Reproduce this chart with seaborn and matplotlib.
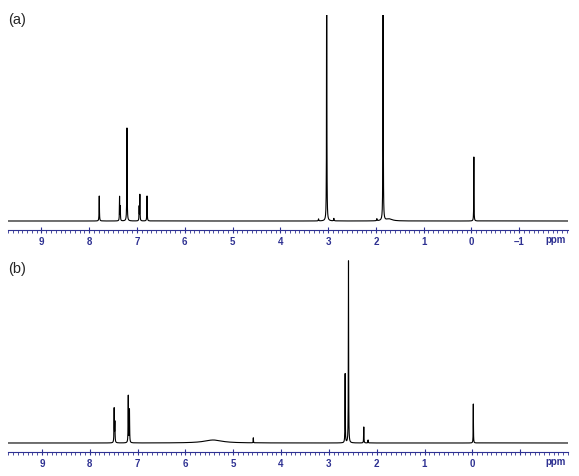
import numpy as np
import pandas as pd
import matplotlib
matplotlib.use("Agg")
import matplotlib.pyplot as plt
import seaborn as sns

# peak lists (shift in ppm, height above baseline, width in ppm)
shift_a = [7.79, 7.365, 7.35, 7.21, 6.955, 6.94, 6.79, 3.20, 3.03, 2.88, 1.98, 1.85, 1.72, -0.05]
height_a = [25, 24, 14, 93, 14, 26, 25, 2, 400, 2.5, 2, 400, 2, 64]
width_a = [0.008, 0.007, 0.007, 0.008, 0.007, 0.007, 0.008, 0.01, 0.006, 0.01, 0.01, 0.006, 0.15, 0.006]

shift_b = [7.49, 7.475, 7.195, 7.17, 5.42, 4.58, 2.66, 2.59, 2.27, 2.18, -0.02]
height_b = [34, 20, 47, 33, 3, 5, 69, 182, 16, 3, 39]
width_b = [0.008, 0.008, 0.008, 0.008, 0.45, 0.006, 0.007, 0.007, 0.007, 0.008, 0.006]

ticks_a = [9, 8, 7, 6, 5, 4, 3, 2, 1, 0, -1]
labels_a = ["9", "8", "7", "6", "5", "4", "3", "2", "1", "0", "\u20131"]
ticks_b = [9, 8, 7, 6, 5, 4, 3, 2, 1, 0, -1]
labels_b = ["9", "8", "7", "6", "5", "4", "3", "2", "1", "0", ""]

BLUE = "#2e3192"


def spectrum(lo, hi, shifts, heights, widths):
    x = np.arange(lo, hi, 0.0005)
    y = np.zeros_like(x)
    for s, h, w in zip(shifts, heights, widths):
        hw = w / 2
        y += h * hw**2 / ((x - s) ** 2 + hw**2)
    return pd.DataFrame({"ppm": x, "intensity": y})


sns.set_style("white")
plt.rcParams['font.family'] = ['Liberation Sans', 'DejaVu Sans']

fig = plt.figure(figsize=(5.79, 4.77), dpi=100)
W, H = 579, 477


def add_panel(top, bottom, xlim, ylim, df, ticks, labels, tag, tag_y):
    ax = fig.add_axes([8 / W, 1 - bottom / H, (568 - 8) / W, (bottom - top) / H])
    sns.lineplot(data=df, x="ppm", y="intensity", ax=ax, color="black",
                 linewidth=0.8, estimator=None, sort=False)
    ax.set_xlim(*xlim)
    ax.set_ylim(*ylim)
    for s in ["left", "right", "top"]:
        ax.spines[s].set_visible(False)
    ax.spines["bottom"].set_color(BLUE)
    ax.spines["bottom"].set_linewidth(0.8)
    ax.set_yticks([])
    ax.set_ylabel("")
    ax.set_xticks(ticks)
    ax.set_xticklabels(labels, fontsize=7, fontweight="bold", color=BLUE)
    ax.set_xticks(np.arange(-2.0, 9.8, 0.1), minor=True)
    ax.tick_params(axis="x", which="major", direction="inout", length=5,
                   width=0.8, color=BLUE, pad=2, bottom=True)
    ax.tick_params(axis="x", which="minor", direction="out", length=2,
                   width=0.6, color=BLUE, bottom=True)
    ax.set_xlabel("ppm", fontsize=7, fontweight="bold", color=BLUE)
    ax.xaxis.set_label_coords((556 - 8) / 560, -4.5 / (bottom - top))
    ax.patch.set_alpha(0)
    fig.text(8 / W, 1 - tag_y / H, tag, fontsize=10.5, va="center", ha="left")
    return ax


df_a = spectrum(-2.2, 9.8, shift_a, height_a, width_a)
df_b = spectrum(-2.2, 9.8, shift_b, height_b, width_b)

add_panel(16, 231, (9.60, -2.02), (-9, 206), df_a, ticks_a, labels_a, "(a)", 20)
add_panel(255, 453, (9.71, -1.61), (-9, 189), df_b, ticks_b, labels_b, "(b)", 269)

plt.savefig("out.png", dpi=100)
